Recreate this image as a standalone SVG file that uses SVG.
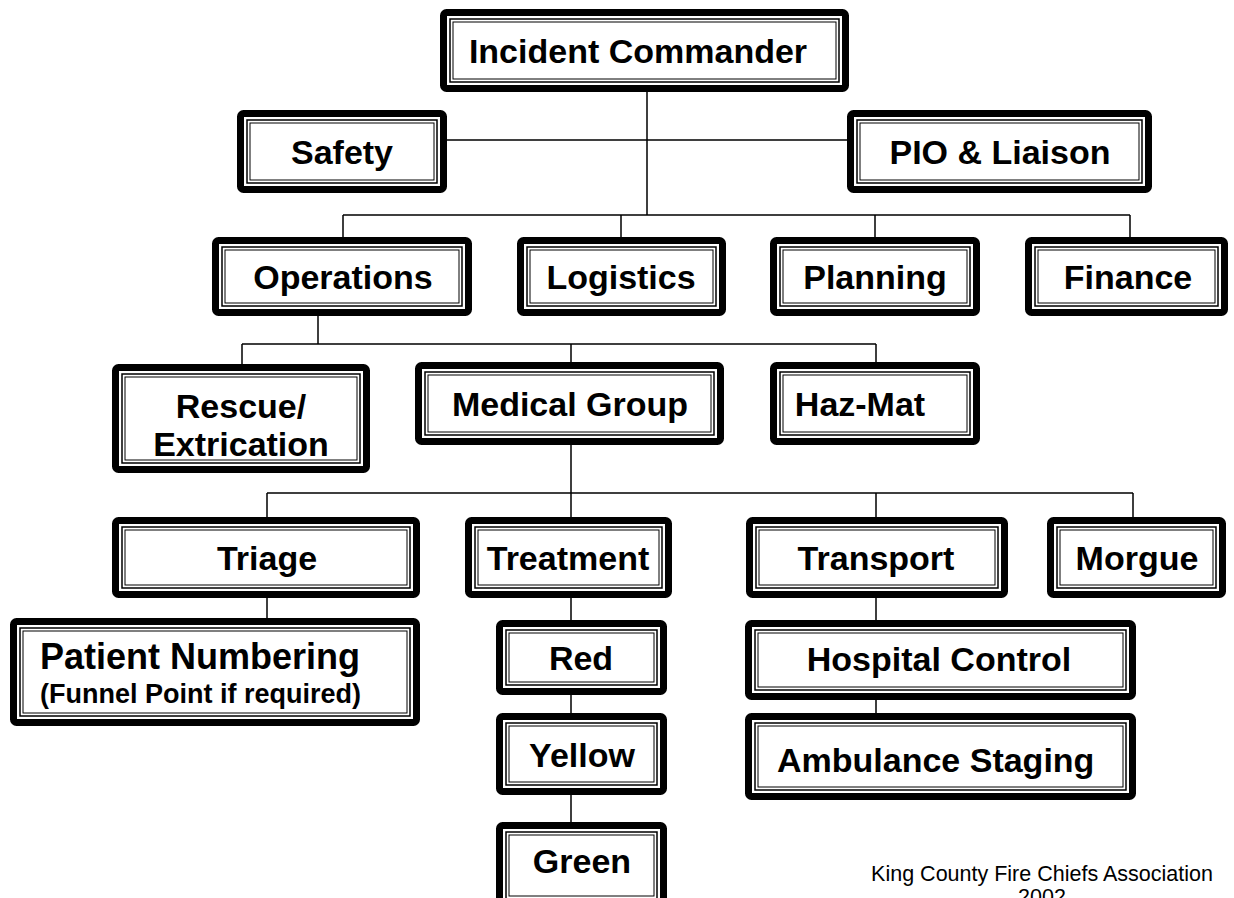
<svg xmlns="http://www.w3.org/2000/svg" width="1234" height="898" viewBox="0 0 1234 898">
<style>
.o{fill:#fff;stroke:#000;stroke-width:7}
.i1{fill:none;stroke:#000;stroke-width:1.5}
.i2{fill:none;stroke:#000;stroke-width:1}
.t{font-family:"Liberation Sans",Arial,sans-serif;font-weight:bold;font-size:34px;fill:#000;text-anchor:middle}
.s{font-family:"Liberation Sans",Arial,sans-serif;font-weight:bold;font-size:27px;fill:#000}
.f{font-family:"Liberation Sans",Arial,sans-serif;font-size:21.5px;fill:#000;text-anchor:middle}
.c{stroke:#000;stroke-width:1.5;fill:none}
</style>
<rect width="1234" height="898" fill="#fff"/>
<g id="connectors">
<path class="c" d="M647 92V215M447 140H847M343 215H1130M343 215V237M621 215V237M875 215V237M1130 215V237"/>
<path class="c" d="M318 316V344M242 344H876M242 344V364M571 344V362M876 344V362"/>
<path class="c" d="M571 445V493M267 493H1133M267 493V517M571 493V517M876 493V517M1133 493V517"/>
<path class="c" d="M267 598V618M571 598V620M571 695V713M571 795V822M876 598V620M876 700V713"/>
</g>
<g id="ic"><rect class="o" x="443.5" y="12.5" width="402" height="76" rx="3"/><rect class="i1" x="450" y="19" width="389" height="63"/><rect class="i2" x="453" y="22" width="383" height="57"/><text class="t" x="638" y="63">Incident Commander</text></g>
<g id="safety"><rect class="o" x="240.5" y="113.5" width="203" height="76" rx="3"/><rect class="i1" x="247" y="120" width="190" height="63"/><rect class="i2" x="250" y="123" width="184" height="57"/><text class="t" x="342" y="164">Safety</text></g>
<g id="pio"><rect class="o" x="850.5" y="113.5" width="298" height="76" rx="3"/><rect class="i1" x="857" y="120" width="285" height="63"/><rect class="i2" x="860" y="123" width="279" height="57"/><text class="t" x="1000" y="164">PIO &amp; Liaison</text></g>
<g id="operations"><rect class="o" x="215.5" y="240.5" width="253" height="72" rx="3"/><rect class="i1" x="222" y="247" width="240" height="59"/><rect class="i2" x="225" y="250" width="234" height="53"/><text class="t" x="343" y="289">Operations</text></g>
<g id="logistics"><rect class="o" x="520.5" y="240.5" width="202" height="72" rx="3"/><rect class="i1" x="527" y="247" width="189" height="59"/><rect class="i2" x="530" y="250" width="183" height="53"/><text class="t" x="621" y="289">Logistics</text></g>
<g id="planning"><rect class="o" x="773.5" y="240.5" width="203" height="72" rx="3"/><rect class="i1" x="780" y="247" width="190" height="59"/><rect class="i2" x="783" y="250" width="184" height="53"/><text class="t" x="875" y="289">Planning</text></g>
<g id="finance"><rect class="o" x="1028.5" y="240.5" width="196" height="72" rx="3"/><rect class="i1" x="1035" y="247" width="183" height="59"/><rect class="i2" x="1038" y="250" width="177" height="53"/><text class="t" x="1128" y="289">Finance</text></g>
<g id="rescue"><rect class="o" x="115.5" y="367.5" width="251" height="102" rx="3"/><rect class="i1" x="122" y="374" width="238" height="89"/><rect class="i2" x="125" y="377" width="232" height="83"/><text class="t" x="241" y="418">Rescue/</text><text class="t" x="241" y="456">Extrication</text></g>
<g id="medical"><rect class="o" x="418.5" y="365.5" width="302" height="76" rx="3"/><rect class="i1" x="425" y="372" width="289" height="63"/><rect class="i2" x="428" y="375" width="283" height="57"/><text class="t" x="570" y="416">Medical Group</text></g>
<g id="hazmat"><rect class="o" x="773.5" y="365.5" width="203" height="76" rx="3"/><rect class="i1" x="780" y="372" width="190" height="63"/><rect class="i2" x="783" y="375" width="184" height="57"/><text class="t" x="860" y="416">Haz-Mat</text></g>
<g id="triage"><rect class="o" x="115.5" y="520.5" width="301" height="74" rx="3"/><rect class="i1" x="122" y="527" width="288" height="61"/><rect class="i2" x="125" y="530" width="282" height="55"/><text class="t" x="267" y="570">Triage</text></g>
<g id="treatment"><rect class="o" x="468.5" y="520.5" width="200" height="74" rx="3"/><rect class="i1" x="475" y="527" width="187" height="61"/><rect class="i2" x="478" y="530" width="181" height="55"/><text class="t" x="568" y="570">Treatment</text></g>
<g id="transport"><rect class="o" x="749.5" y="520.5" width="255" height="74" rx="3"/><rect class="i1" x="756" y="527" width="242" height="61"/><rect class="i2" x="759" y="530" width="236" height="55"/><text class="t" x="876" y="570">Transport</text></g>
<g id="morgue"><rect class="o" x="1050.5" y="520.5" width="172" height="74" rx="3"/><rect class="i1" x="1057" y="527" width="159" height="61"/><rect class="i2" x="1060" y="530" width="153" height="55"/><text class="t" x="1137" y="570">Morgue</text></g>
<g id="patient"><rect class="o" x="13.5" y="621.5" width="403" height="101" rx="3"/><rect class="i1" x="20" y="628" width="390" height="88"/><rect class="i2" x="23" y="631" width="384" height="82"/><text class="t" x="40" y="669" style="text-anchor:start;font-size:36px">Patient Numbering</text><text class="s" x="40" y="703">(Funnel Point if required)</text></g>
<g id="red"><rect class="o" x="499.5" y="623.5" width="164" height="68" rx="3"/><rect class="i1" x="506" y="630" width="151" height="55"/><rect class="i2" x="509" y="633" width="145" height="49"/><text class="t" x="581" y="670">Red</text></g>
<g id="yellow"><rect class="o" x="499.5" y="716.5" width="164" height="75" rx="3"/><rect class="i1" x="506" y="723" width="151" height="62"/><rect class="i2" x="509" y="726" width="145" height="56"/><text class="t" x="582" y="767">Yellow</text></g>
<g id="green"><rect class="o" x="499.5" y="825.5" width="164" height="80" rx="3"/><rect class="i1" x="506" y="832" width="151" height="67"/><rect class="i2" x="509" y="835" width="145" height="61"/><text class="t" x="582" y="873">Green</text></g>
<g id="hospital"><rect class="o" x="748.5" y="623.5" width="384" height="73" rx="3"/><rect class="i1" x="755" y="630" width="371" height="60"/><rect class="i2" x="758" y="633" width="365" height="54"/><text class="t" x="939" y="671">Hospital Control</text></g>
<g id="ambulance"><rect class="o" x="748.5" y="716.5" width="384" height="80" rx="3"/><rect class="i1" x="755" y="723" width="371" height="67"/><rect class="i2" x="758" y="726" width="365" height="61"/><text class="t" x="777" y="772" style="text-anchor:start">Ambulance Staging</text></g>
<g id="footer"><text class="f" x="1042" y="881">King County Fire Chiefs Association</text><text class="f" x="1042" y="904">2002</text></g>
</svg>
